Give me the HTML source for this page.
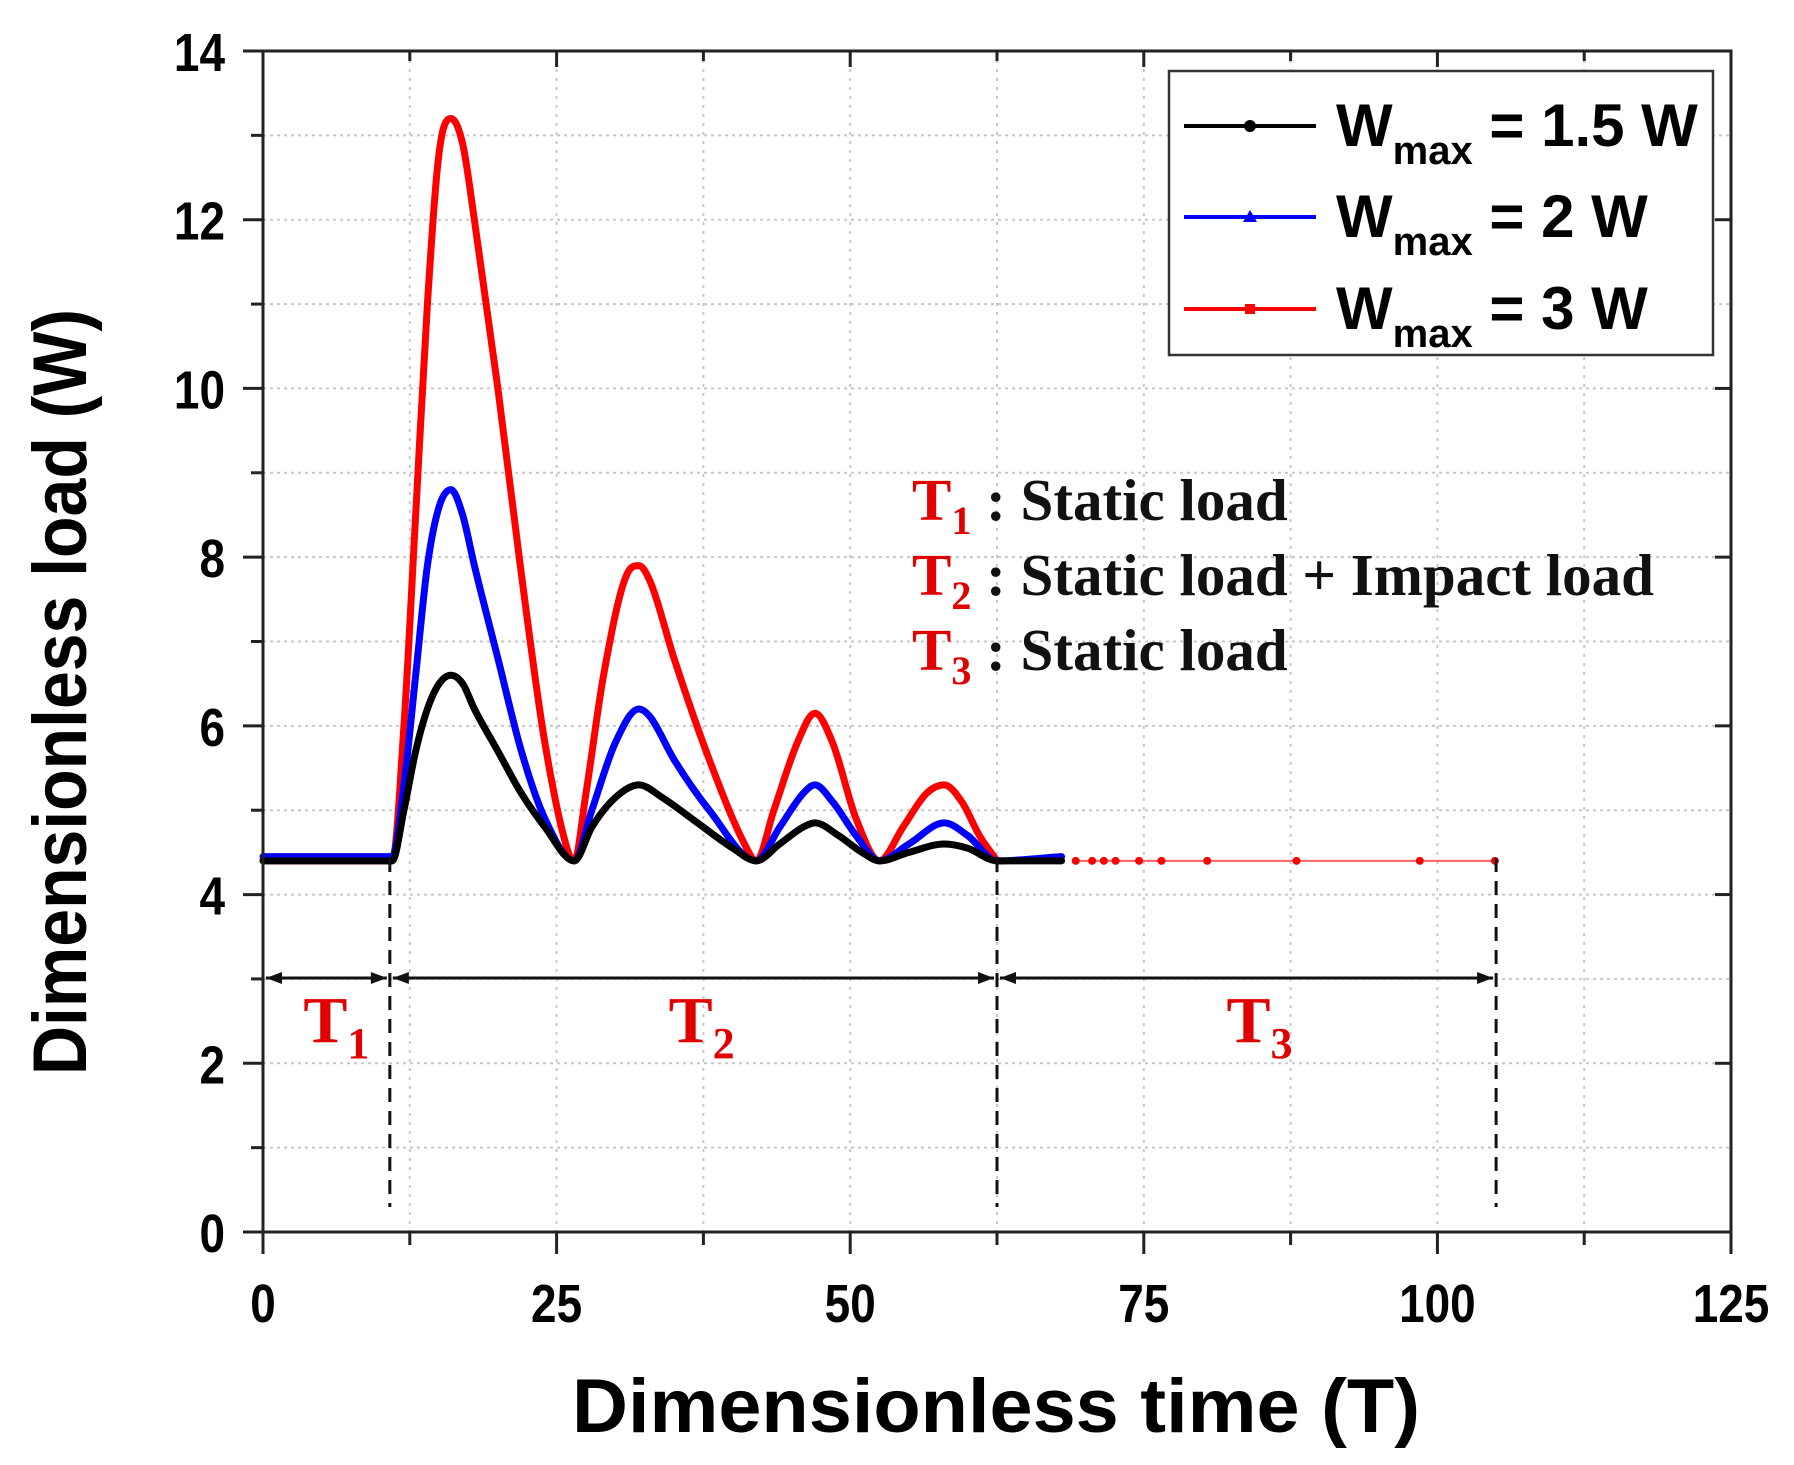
<!DOCTYPE html>
<html><head><meta charset="utf-8"><style>
html,body{margin:0;padding:0;background:#fff;}
svg{display:block;}
text{font-family:"Liberation Sans",sans-serif;font-weight:bold;}
.serif{font-family:"Liberation Serif",serif;font-weight:bold;}
</style></head><body>
<svg id="chart" width="1794" height="1465" viewBox="0 0 1794 1465" xmlns="http://www.w3.org/2000/svg">
<g id="grid"></g>
<g id="series"></g>
<g id="axes"></g>
<g id="annot"></g>
</svg>
<script>
const xTicks=[0,25,50,75,100,125];
const xMinor=[12.5,37.5,62.5,87.5,112.5];
const yTicks=[0,2,4,6,8,10,12,14];
const yMinor=[1,3,5,7,9,11,13];
const redT=[0,11,12,13,14,15,16,17,18,20,22,24,26,26.5,27.5,29,31,32,33,35,38,41,42,43.5,45.5,47,48.5,50.5,52.5,54.5,56.5,58,59.5,61,62.5,69.2,70.6,71.6,72.6,74.6,76.5,80.4,88,98.5,104.9];
const redW=[4.4,4.4,6,8.5,11,12.8,13.2,12.9,12,10,7.8,5.8,4.5,4.4,5.2,6.6,7.8,7.9,7.7,6.8,5.6,4.6,4.4,5,5.8,6.15,5.8,4.9,4.4,4.8,5.2,5.3,5.1,4.7,4.4,4.4,4.4,4.4,4.4,4.4,4.4,4.4,4.4,4.4,4.4];
const blueT=[0,11,12,13,14,15,16,17,18,20,22,24,26.5,28,30,32,33,35,38,42,44,46,47,48.5,50.5,52.5,55,58,60,62.5,68];
const blueW=[4.45,4.45,5.3,6.6,7.9,8.6,8.8,8.5,7.9,6.8,5.7,4.9,4.4,5,5.8,6.2,6.1,5.6,5,4.4,4.8,5.2,5.3,5.1,4.7,4.4,4.6,4.85,4.7,4.4,4.45];
const blackT=[0,11,12,13,14,15,16,17,18,20,22,24,26.5,28,30,32,34,37,40,42,44,46,47,49,51,52.5,55,58,60,62.5,68];
const blackW=[4.4,4.4,5,5.7,6.2,6.5,6.6,6.5,6.2,5.7,5.2,4.8,4.4,4.8,5.15,5.3,5.15,4.85,4.55,4.4,4.6,4.8,4.85,4.7,4.5,4.4,4.5,4.6,4.55,4.4,4.4];
const redTailT=[69.2,70.6,71.6,72.6,74.6,76.5,80.4,88,98.5,104.9];
const redTailW=[4.4,4.4,4.4,4.4,4.4,4.4,4.4,4.4,4.4,4.4];
const boundaries=[10.8,62.5,105];
const regionLabels=["1","2","3"];
const regionCenters=[5.4,36.5,84];

const NS="http://www.w3.org/2000/svg";
const X0=263,X1=1731,Y0=1232,Y1=51;
const sx=t=>X0+(t-0)/(125-0)*(X1-X0);
const sy=w=>Y0-(w-0)/(14-0)*(Y0-Y1);
function mk(tag,attrs,parent){const e=document.createElementNS(NS,tag);for(const k in attrs)e.setAttribute(k,attrs[k]);parent.appendChild(e);return e;}
const grid=document.getElementById('grid'),ser=document.getElementById('series'),axes=document.getElementById('axes'),annot=document.getElementById('annot');

[...xTicks.slice(1,-1),...xMinor].forEach(t=>{
 const l=mk('line',{x1:sx(t),x2:sx(t),y1:Y1,y2:Y0,stroke:'#c8c8c8','stroke-width':2,'stroke-dasharray':'3 6'},grid);
 
 
});
[...yTicks.slice(1,-1),...yMinor].forEach(w=>{
 const l=mk('line',{x1:X0,x2:X1,y1:sy(w),y2:sy(w),stroke:'#c8c8c8','stroke-width':2,'stroke-dasharray':'3 4'},grid);
 
 
});

// monotone cubic (Fritsch-Carlson) path — no overshoot
function monoPath(P){
 const n=P.length,d=[],m=[];
 for(let i=0;i<n-1;i++)d.push((P[i+1][1]-P[i][1])/(P[i+1][0]-P[i][0]));
 m[0]=d[0];m[n-1]=d[n-2];
 for(let i=1;i<n-1;i++)m[i]=(d[i-1]*d[i]<=0)?0:(d[i-1]+d[i])/2;
 for(let i=0;i<n-1;i++){
  if(d[i]===0){m[i]=0;m[i+1]=0;continue;}
  const a=m[i]/d[i],b=m[i+1]/d[i],s=a*a+b*b;
  if(s>9){const t=3/Math.sqrt(s);m[i]=t*a*d[i];m[i+1]=t*b*d[i];}
 }
 let path=`M${P[0][0]},${P[0][1]}`;
 for(let i=0;i<n-1;i++){
  const h=(P[i+1][0]-P[i][0])/3;
  path+=` C${P[i][0]+h},${P[i][1]+m[i]*h} ${P[i+1][0]-h},${P[i+1][1]-m[i+1]*h} ${P[i+1][0]},${P[i+1][1]}`;
 }
 return path;
}
function series(T,W,color,name,sw){
 const P=T.map((t,i)=>[sx(t),sy(W[i])]);
 const p=mk('path',{d:monoPath(P),fill:'none',stroke:color,'stroke-width':sw,'stroke-linejoin':'round','stroke-linecap':'round'},ser);
 
 
}
series(redT.slice(0,35),redW.slice(0,35),'#ff0000','series-wmax-3w',7);
const tl=mk('line',{x1:sx(redTailT[0]),x2:sx(redTailT[redTailT.length-1]),y1:sy(4.4),y2:sy(4.4),stroke:'#ff6060','stroke-width':2},ser);


redTailT.forEach((t,i)=>{
 const c=mk('circle',{cx:sx(t),cy:sy(redTailW[i]),r:4,fill:'#ff0000'},ser);
 
 
});
series(blueT,blueW,'#0000ff','series-wmax-2w',7);
series(blackT,blackW,'#000000','series-wmax-1.5w',7);

const fr=mk('rect',{x:X0,y:Y1,width:X1-X0,height:Y0-Y1,fill:'none',stroke:'#222','stroke-width':3},axes);


xTicks.forEach(t=>{
 mk('line',{x1:sx(t),x2:sx(t),y1:Y0,y2:Y0+22,stroke:'#222','stroke-width':3},axes);
 mk('line',{x1:sx(t),x2:sx(t),y1:Y1,y2:Y1+16,stroke:'#222','stroke-width':3},axes);
 const tx=mk('text',{x:sx(t),y:Y0+90,'font-size':54,'text-anchor':'middle',transform:`translate(${sx(t)},0) scale(0.85,1) translate(${-sx(t)},0)`},axes);
 tx.textContent=t;
 
 
});
xMinor.forEach(t=>{
 mk('line',{x1:sx(t),x2:sx(t),y1:Y0,y2:Y0+13,stroke:'#222','stroke-width':3},axes);
 mk('line',{x1:sx(t),x2:sx(t),y1:Y1,y2:Y1+10,stroke:'#222','stroke-width':3},axes);
});
yTicks.forEach(w=>{
 mk('line',{x1:X0-20,x2:X0,y1:sy(w),y2:sy(w),stroke:'#222','stroke-width':3},axes);
 mk('line',{x1:X1-16,x2:X1,y1:sy(w),y2:sy(w),stroke:'#222','stroke-width':3},axes);
 const tx=mk('text',{x:X0-38,y:sy(w)+20,'font-size':54,'text-anchor':'end',transform:`translate(${X0-38},0) scale(0.85,1) translate(${-(X0-38)},0)`},axes);
 tx.textContent=w;
 
 
});
yMinor.forEach(w=>{
 mk('line',{x1:X0-12,x2:X0,y1:sy(w),y2:sy(w),stroke:'#222','stroke-width':3},axes);
});
const xl=mk('text',{x:572,y:1432,'font-size':76,textLength:848,lengthAdjust:'spacingAndGlyphs'},axes);
xl.textContent='Dimensionless time (T)';


const yl=mk('text',{x:0,y:0,'font-size':76,textLength:766,lengthAdjust:'spacingAndGlyphs',transform:'translate(86,1075) rotate(-90)'},axes);
yl.textContent='Dimensionless load (W)';



const lg=mk('g',{},annot);


mk('rect',{x:1169,y:71,width:544,height:284,fill:'#fff',stroke:'#333','stroke-width':2.5},lg);
const legColors=['#000','#0000ff','#ff0000'],legVals=['1.5 W','2 W','3 W'],legY=[126,217,309];
legColors.forEach((c,i)=>{
 const e=mk('g',{},lg);
 
 
 mk('line',{x1:1184,x2:1316,y1:legY[i],y2:legY[i],stroke:c,'stroke-width':4},e);
 if(i==0)mk('circle',{cx:1250,cy:legY[i],r:6,fill:c},e);
 if(i==1)mk('polygon',{points:`1250,${legY[i]-7} 1257,${legY[i]+5} 1243,${legY[i]+5}`,fill:c},e);
 if(i==2)mk('rect',{x:1245,y:legY[i]-5,width:10,height:10,fill:c},e);
 const t=mk('text',{x:1336,y:legY[i]+20,'font-size':60},e);
 t.innerHTML=`W<tspan font-size="40" dy="18">max</tspan><tspan dy="-18"> = ${legVals[i]}</tspan>`;
});

const desc=[' : Static load',' : Static load + Impact load',' : Static load'],descY=[520,595,670];
desc.forEach((d,i)=>{
 const t=mk('text',{x:912,y:descY[i],'font-size':59,'class':'serif'},annot);
 t.innerHTML=`<tspan fill="#e00000">T</tspan><tspan fill="#e00000" font-size="40" dy="14">${i+1}</tspan><tspan fill="#111" dy="-14">${d}</tspan>`;
 
 
});

const AY=978;
boundaries.forEach(b=>{
 const l=mk('line',{x1:sx(b),x2:sx(b),y1:858,y2:1207,stroke:'#111','stroke-width':3,'stroke-dasharray':'14 9'},annot);
 
 
});
const starts=[0,boundaries[0],boundaries[1]],ends=boundaries;
starts.forEach((s,i)=>{
 const g=mk('g',{},annot);
 
 
 const a=sx(s)+3,b=sx(ends[i])-3;
 mk('line',{x1:a,x2:b,y1:AY,y2:AY,stroke:'#111','stroke-width':3},g);
 mk('polygon',{points:`${a},${AY} ${a+16},${AY-6} ${a+16},${AY+6}`,fill:'#111'},g);
 mk('polygon',{points:`${b},${AY} ${b-16},${AY-6} ${b-16},${AY+6}`,fill:'#111'},g);
 const t=mk('text',{x:sx(regionCenters[i])+10,y:1042,'font-size':66,'class':'serif','text-anchor':'middle',fill:'#e00000'},annot);
 t.innerHTML=`T<tspan font-size="44" dy="16">${regionLabels[i]}</tspan>`;
 
 
});
</script>
</body></html>
